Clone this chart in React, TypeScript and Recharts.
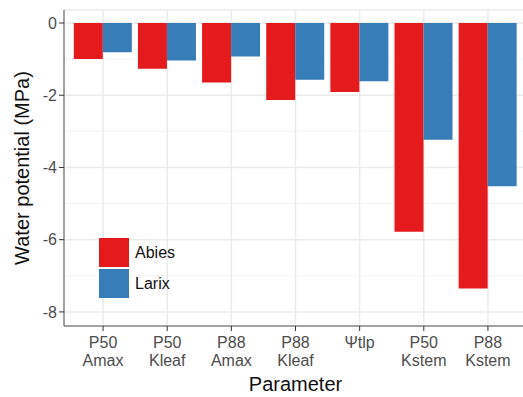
import { BarChart, Bar, XAxis, YAxis, CartesianGrid } from 'recharts';

const categories = ['P50\nAmax', 'P50\nKleaf', 'P88\nAmax', 'P88\nKleaf', 'Ψtlp', 'P50\nKstem', 'P88\nKstem'];
const abiesValues = [-1.0, -1.27, -1.65, -2.13, -1.91, -5.78, -7.35];
const larixValues = [-0.81, -1.04, -0.93, -1.57, -1.61, -3.23, -4.52];
const yTicks = [0, -2, -4, -6, -8];
const minorTicks = [-1, -3, -5, -7];

const series = [
  { key: 'abies', name: 'Abies', color: '#E41A1C' },
  { key: 'larix', name: 'Larix', color: '#377EB8' },
];

const data = categories.map((c, i) => ({ name: c, abies: abiesValues[i], larix: larixValues[i] }));

const FONT = '"Liberation Sans", Arial, sans-serif';
const TEXT_COLOR = '#4d4d4d';

// two-line category labels like ggplot
const XTick = ({ x, y, payload }: any) => {
  const lines = String(payload.value).split('\n');
  return (
    <g>
      {lines.map((l, i) => (
        <text key={i} x={x} y={y + 15 + i * 18} textAnchor="middle" fill={TEXT_COLOR} fontSize={16} fontFamily={FONT}>
          {l}
        </text>
      ))}
    </g>
  );
};

const App = () => {
  return (
    <div style={{ position: 'absolute', left: 0, top: 0, width: 523, height: 397, overflow: 'hidden', background: '#fff' }}>
      <BarChart
        width={530}
        height={397}
        data={data}
        margin={{ top: 10, right: 3, bottom: 0, left: 0 }}
        barGap={0}
        barCategoryGap={2.8}
      >
        <CartesianGrid stroke="#f3f3f3" strokeWidth={1} vertical={false} horizontalValues={minorTicks} />
        <CartesianGrid stroke="#ebebeb" strokeWidth={1.5} />
        <XAxis
          dataKey="name"
          height={71}
          padding={{ left: 7, right: 7 }}
          tickSize={5}
          tickMargin={2}
          tickLine={{ stroke: '#333' }}
          axisLine={{ stroke: '#555' }}
          tick={<XTick />}
          interval={0}
          label={{ value: 'Parameter', position: 'insideBottom', offset: 6, fill: '#111', fontSize: 20, fontFamily: FONT }}
        />
        <XAxis
          xAxisId="top"
          dataKey="name"
          orientation="top"
          height={0}
          padding={{ left: 7, right: 7 }}
          tick={false}
          tickLine={false}
          axisLine={{ stroke: '#777' }}
        />
        <YAxis
          width={64}
          domain={[-8.39, 0.36]}
          ticks={yTicks}
          allowDataOverflow
          tickSize={5}
          tickMargin={2}
          tickLine={{ stroke: '#333' }}
          axisLine={{ stroke: '#555' }}
          tick={{ fill: TEXT_COLOR, fontSize: 16, fontFamily: FONT }}
          label={{
            content: ({ viewBox }: any) => {
              const cy = viewBox.y + viewBox.height / 2;
              return (
                <text x={22} y={cy} transform={`rotate(-90 22 ${cy})`} textAnchor="middle" dominantBaseline="central" fill="#111" fontSize={20} fontFamily={FONT}>
                  Water potential (MPa)
                </text>
              );
            },
          }}
        />
        {series.map((s) => (
          <Bar key={s.key} dataKey={s.key} name={s.name} fill={s.color} isAnimationActive={false} />
        ))}
      </BarChart>
      <div style={{ position: 'absolute', left: 99, top: 237, fontFamily: FONT, fontSize: 16, color: '#111' }}>
        {series.map((s) => (
          <div key={s.key} style={{ display: 'flex', alignItems: 'center', height: 31 }}>
            <div style={{ width: 30, height: 29, background: s.color, marginRight: 6 }} />
            <span>{s.name}</span>
          </div>
        ))}
      </div>
    </div>
  );
};

export default App;
